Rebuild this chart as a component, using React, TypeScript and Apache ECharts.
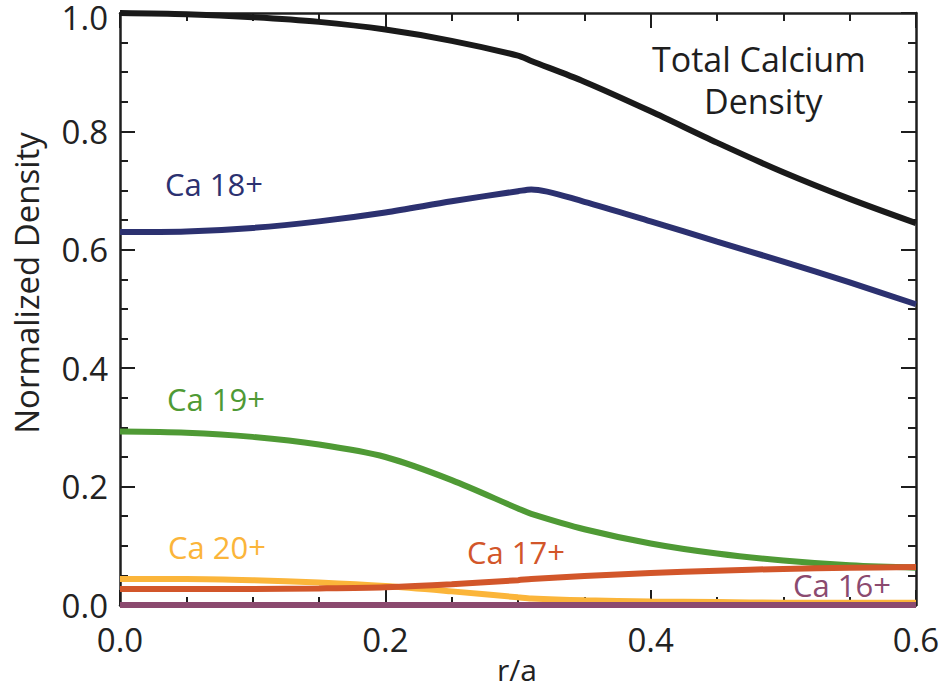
import React, { useEffect, useRef } from "react";
import * as echarts from "echarts";

const rOverA = [0, 0.05, 0.1, 0.15, 0.2, 0.25, 0.3, 0.31, 0.35, 0.4, 0.45, 0.5, 0.55, 0.6];
const totalCa = [1.0, 0.998, 0.993, 0.985, 0.972, 0.953, 0.928, 0.919, 0.884, 0.834, 0.781, 0.731, 0.686, 0.645];
const ca18 = [0.63, 0.631, 0.637, 0.648, 0.663, 0.682, 0.699, 0.702, 0.681, 0.648, 0.614, 0.58, 0.545, 0.508];
const ca19 = [0.293, 0.291, 0.284, 0.271, 0.25, 0.211, 0.163, 0.154, 0.128, 0.104, 0.087, 0.075, 0.067, 0.063];
const ca20 = [0.044, 0.044, 0.042, 0.038, 0.032, 0.023, 0.013, 0.011, 0.008, 0.006, 0.005, 0.004, 0.004, 0.004];
const ca17 = [0.027, 0.027, 0.027, 0.028, 0.03, 0.035, 0.042, 0.044, 0.049, 0.054, 0.058, 0.061, 0.063, 0.064];
const ca16 = [0, 0, 0, 0, 0, 0, 0, 0, 0, 0, 0, 0, 0, 0];

const xTicks = [0, 0.2, 0.4, 0.6];
const yTicks = [0, 0.2, 0.4, 0.6, 0.8, 1.0];

const FONT = "'Open Sans', 'Noto Sans', sans-serif";
const AX = "#1e1e1e";

const seriesDefs = [
  { name: "Total Calcium Density", data: totalCa, color: "#1a1a1a" },
  { name: "Ca 18+", data: ca18, color: "#2c3170" },
  { name: "Ca 19+", data: ca19, color: "#4f9a35" },
  { name: "Ca 20+", data: ca20, color: "#fbb53a" },
  { name: "Ca 17+", data: ca17, color: "#d2562a" },
  { name: "Ca 16+", data: ca16, color: "#8b4a6f" },
];

export default function App() {
  const ref = useRef<HTMLDivElement>(null);
  useEffect(() => {
    if (!ref.current) return;
    const chart = echarts.init(ref.current, null, { renderer: "svg" });
    const axisCommon = {
      type: "value",
      interval: 0.2,
      axisLine: { show: true, onZero: false, lineStyle: { color: AX, width: 2.5 } },
      axisTick: { show: true, inside: true, length: 15, lineStyle: { color: AX, width: 2 } },
      minorTick: { show: true, splitNumber: 4, length: 8, lineStyle: { color: AX, width: 2 } },
      splitLine: { show: false },
    };
    const yMax = yTicks[yTicks.length - 1];
    chart.setOption({
      animation: false,
      backgroundColor: "#ffffff",
      grid: { left: 120, right: 27, top: 13, bottom: 85, containLabel: false, outerBoundsMode: "none" },
      xAxis: [
        {
          ...axisCommon,
          position: "bottom",
          min: 0,
          max: 0.6,
          axisLabel: {
            show: true,
            margin: 18,
            fontFamily: FONT,
            fontSize: 33,
            color: "#222",
            formatter: (v: number) => (xTicks.some((t) => Math.abs(t - v) < 1e-9) ? v.toFixed(1) : ""),
          },
        },
        {
          ...axisCommon,
          position: "top",
          min: 0,
          max: 0.6,
          axisLabel: { show: false },
        },
      ],
      yAxis: [
        {
          ...axisCommon,
          position: "left",
          min: 0,
          max: 1.0,
          axisLabel: {
            show: true,
            margin: 12,
            fontFamily: FONT,
            fontSize: 33,
            color: "#222",
            rich: {
              top: { fontFamily: FONT, fontSize: 33, color: "#222", padding: [9, 0, 0, 0] },
            },
            formatter: (v: number) => {
              if (!yTicks.some((t) => Math.abs(t - v) < 1e-9)) return "";
              if (Math.abs(v - yMax) < 1e-9) return "{top|" + v.toFixed(1) + "}";
              return v.toFixed(1);
            },
          },
        },
        {
          ...axisCommon,
          position: "right",
          min: 0,
          max: 1.0,
          axisLabel: { show: false },
        },
      ],
      series: seriesDefs.map((s) => ({
        type: "line",
        name: s.name,
        data: rOverA.map((x, i) => [x, s.data[i]]),
        showSymbol: false,
        smooth: 0.3,
        clip: false,
        lineStyle: { color: s.color, width: 6 },
        itemStyle: { color: s.color },
      })),
      graphic: [
        {
          type: "text",
          x: 26,
          y: 283,
          rotation: Math.PI / 2,
          style: {
            text: "Normalized Density",
            fontFamily: FONT,
            fontSize: 33,
            fill: "#222",
            align: "center",
            verticalAlign: "middle",
          },
        },
        {
          type: "text",
          x: 517,
          y: 669,
          style: {
            text: "r/a",
            fontFamily: FONT,
            fontSize: 30,
            fill: "#222",
            align: "center",
            verticalAlign: "middle",
          },
        },
        { type: "text", left: 652, top: 42, style: { text: "Total Calcium", fontFamily: FONT, fontSize: 34, fill: "#1e1e1e" } },
        { type: "text", left: 704, top: 84, style: { text: "Density", fontFamily: FONT, fontSize: 34, fill: "#1e1e1e" } },
        { type: "text", left: 165, top: 168, style: { text: "Ca 18+", fontFamily: FONT, fontSize: 31, fill: "#2c3170" } },
        { type: "text", left: 167, top: 383, style: { text: "Ca 19+", fontFamily: FONT, fontSize: 31, fill: "#4f9a35" } },
        { type: "text", left: 168, top: 531, style: { text: "Ca 20+", fontFamily: FONT, fontSize: 31, fill: "#fbb53a" } },
        { type: "text", left: 467, top: 536, style: { text: "Ca 17+", fontFamily: FONT, fontSize: 31, fill: "#d2562a" } },
        { type: "text", left: 793, top: 569, style: { text: "Ca 16+", fontFamily: FONT, fontSize: 31, fill: "#8b4a6f" } },
      ],
    });
    return () => chart.dispose();
  }, []);
  return <div ref={ref} style={{ width: 943, height: 690, position: "absolute", left: 0, top: 0 }} />;
}
